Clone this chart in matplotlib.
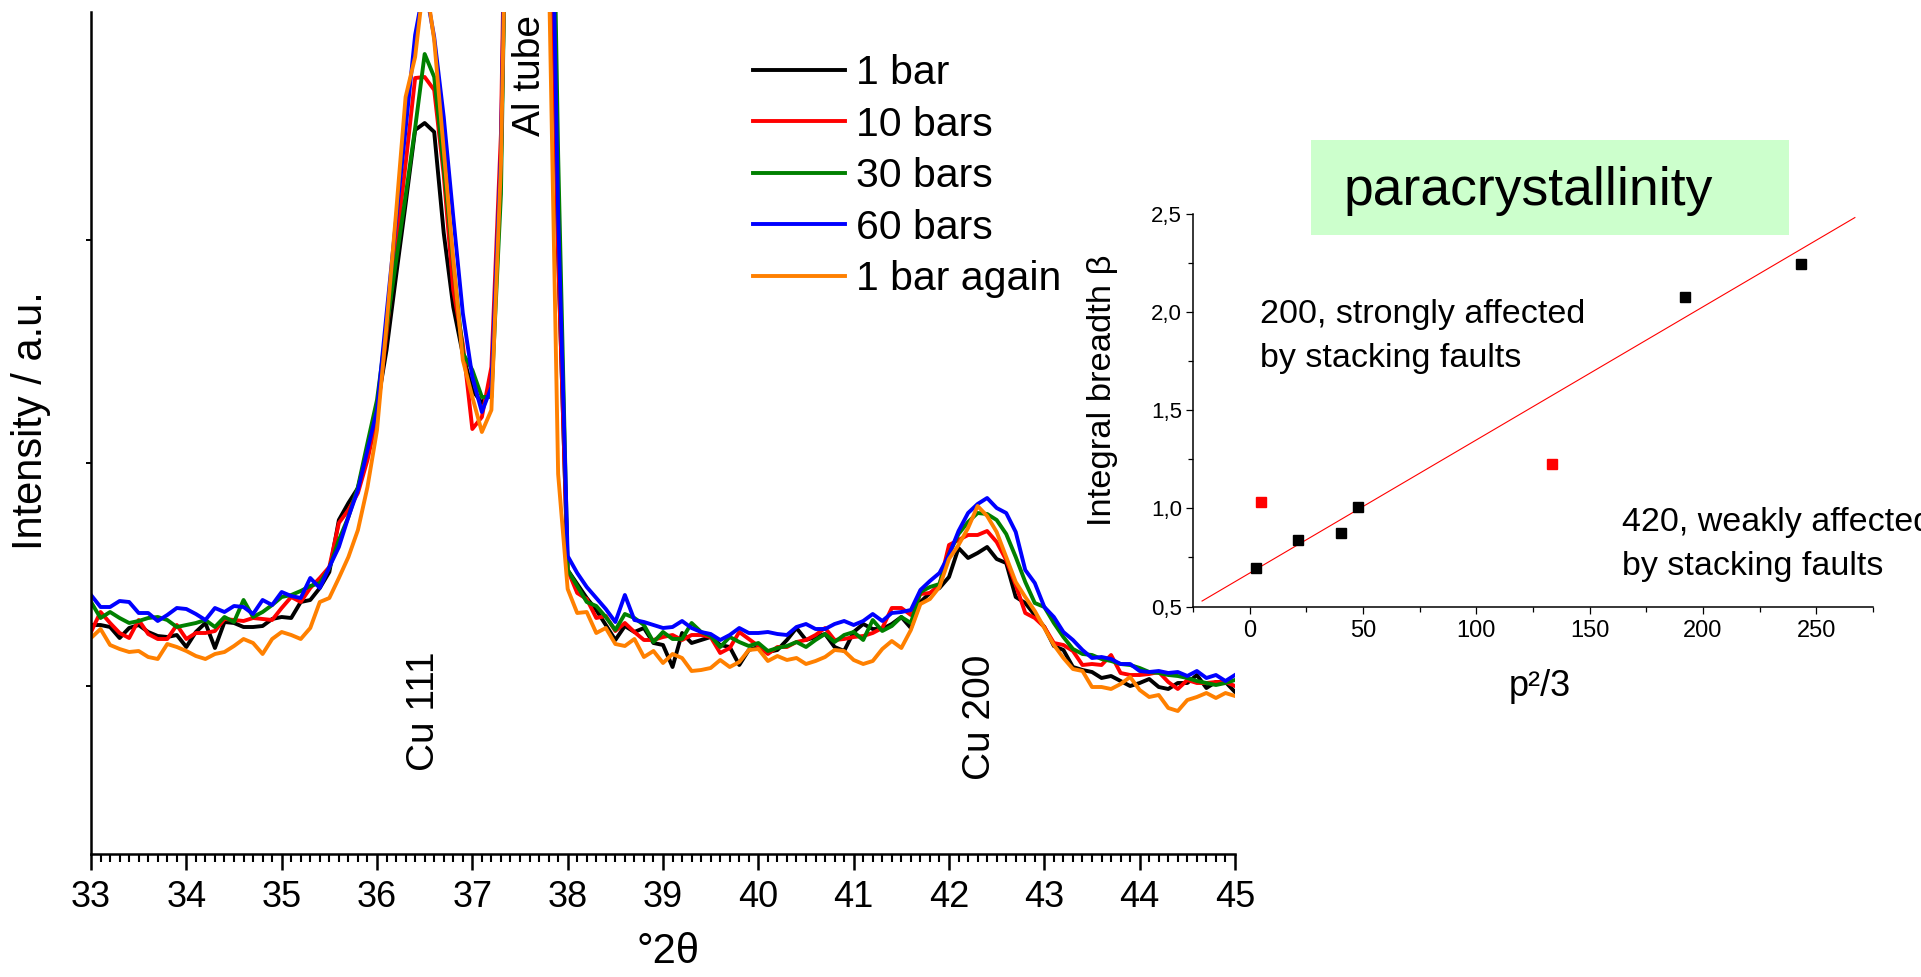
import numpy as np
import matplotlib.pyplot as plt
from matplotlib.ticker import MultipleLocator, FuncFormatter
from matplotlib.patches import Rectangle

plt.rcParams['font.family'] = ['Liberation Sans', 'DejaVu Sans']
narrow = ['Liberation Sans Narrow', 'Liberation Sans', 'DejaVu Sans']

# XRD scans, 33 - 45 deg 2theta, step 0.1 (intensity in a.u.)
two_theta = np.linspace(33, 45, 121)

bar_1 = [
    229, 229, 227, 216, 226, 229, 222, 218, 217, 219,
    207, 222, 231, 206, 232, 231, 227, 227, 228, 235,
    237, 236, 252, 254, 266, 282, 334, 351, 366, 404,
    447, 504, 578, 650, 724, 731, 722, 621, 547, 500,
    464, 451, 464, 690, 1200, 2100, 2500, 1900, 1100, 600,
    284, 270, 256, 244, 229, 214, 228, 222, 226, 211,
    209, 187, 221, 211, 214, 217, 209, 207, 189, 204,
    207, 202, 204, 214, 226, 214, 217, 220, 207, 203,
    222, 230, 225, 225, 230, 237, 226, 252, 261, 266,
    277, 306, 296, 301, 307, 295, 291, 257, 251, 239,
    227, 208, 204, 187, 184, 182, 176, 178, 173, 168,
    171, 175, 167, 165, 171, 171, 179, 166, 172, 172,
    162]
bar_10 = [
    222, 242, 231, 221, 216, 234, 220, 215, 215, 229,
    215, 221, 221, 223, 235, 234, 233, 236, 235, 234,
    246, 257, 252, 266, 276, 287, 331, 344, 361, 394,
    437, 521, 607, 690, 776, 777, 764, 679, 564, 510,
    425, 437, 487, 720, 1300, 2200, 2600, 2000, 1050, 600,
    284, 261, 255, 236, 238, 223, 231, 222, 214, 214,
    217, 219, 214, 219, 219, 217, 201, 206, 222, 215,
    208, 200, 207, 207, 212, 214, 219, 226, 214, 215,
    217, 218, 221, 226, 246, 246, 239, 260, 261, 269,
    309, 314, 319, 319, 323, 312, 294, 269, 241, 236,
    227, 211, 209, 203, 189, 190, 189, 199, 181, 179,
    179, 180, 182, 172, 165, 174, 171, 171, 172, 172,
    168]
bar_30 = [
    252, 236, 242, 236, 231, 233, 236, 237, 234, 227,
    229, 231, 234, 227, 237, 232, 254, 237, 242, 249,
    257, 259, 263, 268, 271, 286, 314, 337, 367, 411,
    454, 526, 593, 658, 726, 800, 777, 687, 591, 501,
    484, 457, 457, 660, 1250, 2300, 2700, 2200, 1250, 700,
    284, 268, 252, 248, 237, 224, 240, 236, 229, 212,
    222, 215, 215, 231, 222, 218, 207, 217, 212, 208,
    211, 203, 206, 208, 212, 207, 214, 220, 212, 219,
    222, 214, 234, 223, 228, 237, 231, 262, 267, 270,
    300, 320, 332, 341, 340, 334, 320, 297, 272, 251,
    247, 231, 217, 205, 200, 199, 195, 193, 190, 189,
    186, 182, 181, 179, 178, 176, 173, 171, 169, 171,
    174]
bar_60 = [
    259, 247, 247, 253, 252, 241, 241, 233, 239, 246,
    245, 240, 234, 246, 242, 248, 247, 240, 254, 249,
    262, 258, 256, 276, 266, 287, 307, 337, 364, 404,
    444, 540, 634, 725, 819, 870, 817, 737, 637, 541,
    477, 442, 467, 700, 1250, 2200, 2600, 2100, 1150, 640,
    298, 281, 267, 256, 245, 232, 259, 234, 232, 229,
    226, 227, 233, 226, 222, 220, 214, 219, 226, 221,
    221, 222, 220, 219, 227, 230, 225, 225, 230, 233,
    229, 233, 240, 233, 241, 242, 244, 264, 273, 281,
    299, 323, 341, 350, 356, 346, 341, 322, 284, 271,
    247, 237, 222, 214, 204, 196, 197, 195, 190, 190,
    183, 182, 183, 181, 182, 178, 183, 176, 179, 173,
    179]
bar_1_again = [
    216, 225, 209, 205, 202, 203, 197, 195, 210, 207,
    203, 198, 195, 200, 202, 208, 215, 211, 200, 215,
    222, 219, 215, 226, 252, 256, 276, 297, 324, 367,
    424, 529, 641, 757, 797, 880, 814, 704, 594, 494,
    457, 422, 444, 690, 1200, 2000, 2400, 1800, 900, 380,
    265, 241, 242, 221, 226, 210, 208, 215, 197, 203,
    191, 200, 196, 183, 184, 186, 194, 187, 192, 204,
    205, 193, 198, 194, 196, 190, 193, 197, 204, 203,
    194, 190, 193, 205, 213, 206, 224, 250, 255, 267,
    295, 309, 326, 348, 338, 322, 297, 272, 257, 243,
    226, 209, 196, 185, 183, 167, 167, 165, 170, 177,
    164, 157, 159, 146, 143, 154, 157, 161, 156, 161,
    158]

labels = ['1 bar', '10 bars', '30 bars', '60 bars', '1 bar again']
colors = ['black', '#ff0000', '#008000', '#0000ff', '#ff8000']

# inset: integral breadth vs p^2/3
p2_black = [2.8, 21.3, 40.3, 48.0, 191.9, 243.2]
beta_black = [0.695, 0.840, 0.875, 1.006, 2.076, 2.248]
p2_red = [5.1, 133.2]
beta_red = [1.031, 1.227]
fit_range = [-21, 267]

fig = plt.figure(figsize=(19.21, 9.77), dpi=100)

# main XRD panel
ax = fig.add_axes([91 / 1921, 123 / 977, 1144 / 1921, 842 / 977])
series = [bar_1, bar_10, bar_30, bar_60, bar_1_again]
handles = []
for lab, ys, c in zip(labels, series, colors):
    h, = ax.plot(two_theta, ys, color=c, lw=2.8, label=lab)
    handles.append(h)

ax.set_xlim(33, 45)
ax.set_ylim(0, 842)
ax.spines['top'].set_visible(False)
ax.spines['right'].set_visible(False)
ax.spines['left'].set_linewidth(1.8)
ax.spines['bottom'].set_linewidth(1.8)
ax.xaxis.set_major_locator(MultipleLocator(1))
ax.xaxis.set_minor_locator(MultipleLocator(0.1))
ax.tick_params(axis='x', which='major', direction='out', length=11.5, width=1.8,
               labelsize=26, pad=7)
ax.tick_params(axis='x', which='minor', direction='out', length=5.5, width=1.5)
for t in ax.get_xticklabels():
    t.set_family(narrow)
ax.set_yticks([168, 391, 614])
ax.tick_params(axis='y', direction='out', length=3.5, width=1.4, labelleft=False)

ax.text(36.49, 143, 'Cu 111', rotation=90, ha='center', va='center', fontsize=28)
ax.text(42.33, 137, 'Cu 200', rotation=90, ha='center', va='center', fontsize=28)
ax.text(37.6, 778, 'Al tube', rotation=90, ha='center', va='center', fontsize=28)

fig.text(31 / 1921, 1 - 421 / 977, 'Intensity / a.u.', rotation=90,
         ha='center', va='center', fontsize=30)
fig.text(668 / 1921, 1 - 952 / 977, '°2θ', ha='center', va='center', fontsize=30)

fig.legend(handles, labels, loc='upper left', bbox_to_anchor=(753 / 1921, 1 - 54 / 977),
           frameon=False, fontsize=29.5, handlelength=2.24, handletextpad=0.28,
           labelspacing=0.33, borderpad=0, borderaxespad=0)

# inset panel
ax2 = fig.add_axes([1193 / 1921, 370.5 / 977, 680 / 1921, 392.2 / 977])
ax2.patch.set_alpha(0)
coef = np.polyfit(p2_black, beta_black, 1)
ax2.plot(fit_range, np.polyval(coef, fit_range), color='#ff0000', lw=0.8)
ax2.plot(p2_black, beta_black, 's', color='black', ms=7.5, ls='none')
ax2.plot(p2_red, beta_red, 's', color='#ff0000', ms=7.5, ls='none')
ax2.set_xlim(-25, 275)
ax2.set_ylim(0.5, 2.5)
ax2.spines['top'].set_visible(False)
ax2.spines['right'].set_visible(False)
for s in ['left', 'bottom']:
    ax2.spines[s].set_linewidth(1.1)
ax2.xaxis.set_major_locator(MultipleLocator(50))
ax2.xaxis.set_minor_locator(MultipleLocator(25))
ax2.yaxis.set_major_locator(MultipleLocator(0.5))
ax2.yaxis.set_minor_locator(MultipleLocator(0.25))
ax2.yaxis.set_major_formatter(FuncFormatter(lambda v, p: f'{v:.1f}'.replace('.', ',')))
ax2.tick_params(which='major', direction='out', length=5, width=0.9)
ax2.tick_params(which='minor', direction='out', length=3.5, width=0.9)
ax2.tick_params(axis='x', labelsize=17, pad=5)
ax2.tick_params(axis='y', labelsize=16, pad=3)
for t in ax2.get_xticklabels() + ax2.get_yticklabels():
    t.set_family(narrow)

ax2.text(4.6, 1.875, '200, strongly affected\nby stacking faults', ha='left', va='center',
         fontsize=24.5, linespacing=1.55)
ax2.text(164.1, 0.815, '420, weakly affected\nby stacking faults', ha='left', va='center',
         fontsize=24.5, linespacing=1.55)

fig.text(1102 / 1921, 1 - 390 / 977, 'Integral breadth β', rotation=90,
         ha='center', va='center', fontsize=24.8)
fig.text(1540 / 1921, 1 - 686 / 977, 'p²/3', ha='center', va='center', fontsize=26)

# green title box
fig.patches.append(Rectangle((1311 / 1921, 1 - 235 / 977), 478 / 1921, 95 / 977,
                             transform=fig.transFigure, facecolor='#ccffcc',
                             edgecolor='none', zorder=5))
fig.text(1344 / 1921, 1 - 191 / 977, 'paracrystallinity', ha='left', va='center',
         fontsize=38.5, zorder=6)

fig.savefig('out.png', dpi=100)
